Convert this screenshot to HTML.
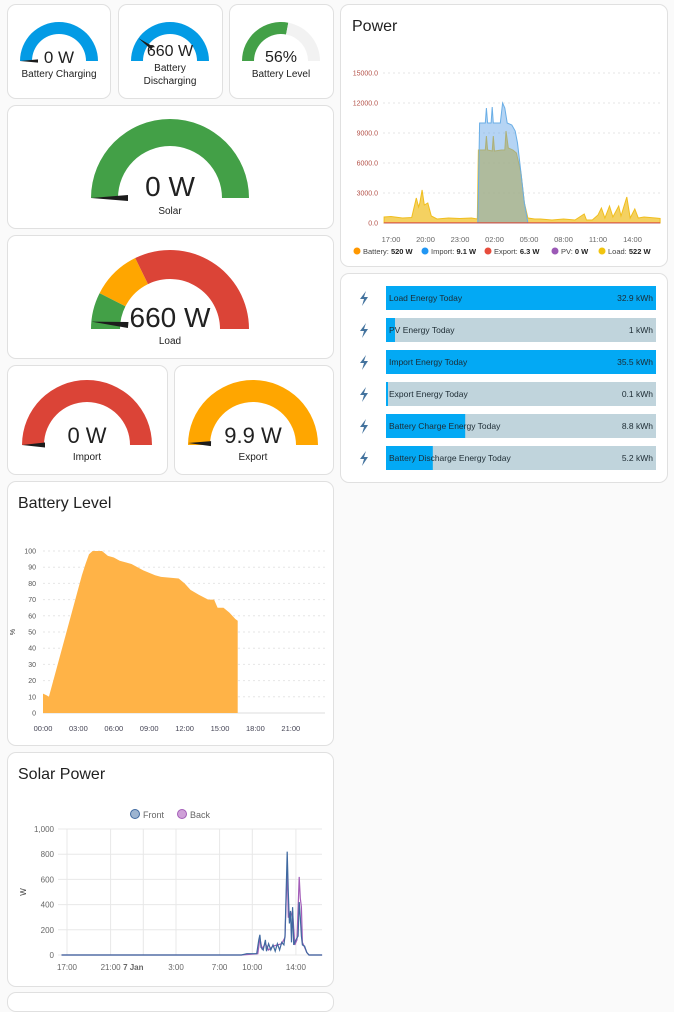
<!DOCTYPE html>
<html><head><meta charset="utf-8"><style>
body{margin:0;background:#fafafa;font-family:"Liberation Sans",sans-serif;width:674px;height:994px;overflow:hidden;position:relative}
.card{position:absolute;background:#fff;border:1px solid #e0e0e0;border-radius:9px;box-sizing:border-box}
svg{position:absolute;left:0;top:0}
.title{position:absolute;font-size:16px;color:#212121}
</style></head><body>
<div class="card" style="left:7px;top:4px;width:104px;height:95px"></div>
<div class="card" style="left:118px;top:4px;width:105px;height:95px"></div>
<div class="card" style="left:229px;top:4px;width:105px;height:95px"></div>
<div class="card" style="left:7px;top:105px;width:327px;height:124px"></div>
<div class="card" style="left:7px;top:235px;width:327px;height:124px"></div>
<div class="card" style="left:7px;top:365px;width:161px;height:110px"></div>
<div class="card" style="left:174px;top:365px;width:160px;height:110px"></div>
<div class="card" style="left:7px;top:481px;width:327px;height:265px"></div>
<div class="card" style="left:7px;top:752px;width:327px;height:235px"></div>
<div class="card" style="left:7px;top:992px;width:327px;height:20px"></div>
<div class="card" style="left:340px;top:4px;width:328px;height:263px"></div>
<div class="card" style="left:340px;top:273px;width:328px;height:210px"></div>
<div class="title" style="left:352px;top:18px">Power</div>
<div class="title" style="left:18px;top:495px">Battery Level</div>
<div class="title" style="left:18px;top:766px">Solar Power</div>
<svg id="s" width="674" height="994" font-family="Liberation Sans, sans-serif"></svg>
<script>
// ---- Power chart data (hours since midnight of day 1; >24 = next day) ----
const loadT=[16.4,17,18,18.8,19.2,19.4,19.5,19.7,19.9,20.2,20.5,21,22,23,24,24.5,24.6,25.2,25.3,25.4,25.8,25.9,26,26.6,26.9,27.0,27.2,27.6,27.9,28.3,28.6,28.9,29.5,30,31,32,33,33.8,34,34.5,35,35.3,35.6,36,36.3,36.8,37,37.5,37.8,38.2,38.5,39,40,40.4];
const loadV=[600,650,500,550,2500,1600,2000,3300,1800,2000,700,400,500,450,500,400,7300,7300,8700,7300,7200,8700,7200,7300,7300,9200,7500,7300,7000,5000,2000,500,400,400,300,400,300,900,300,300,800,1500,500,1700,600,1700,700,2600,500,1400,500,600,500,450];
const impT=[16.4,24.55,24.7,25.2,25.3,25.4,25.7,25.8,25.9,26.5,26.7,26.9,27.1,27.5,27.8,28.0,28.3,28.6,28.9,40.4];
const impV=[0,0,10000,10000,11500,10000,10000,11600,10000,10000,12000,11500,10000,9800,9200,8000,5000,2000,0,0];
const powerYTicks=[0,3000,6000,9000,12000,15000];
const powerXTicks=["17:00","20:00","23:00","02:00","05:00","08:00","11:00","14:00"];
const powerXTickHours=[17,20,23,26,29,32,35,38];
// ---- Battery level data ----
const batT=[0,0.3,0.5,3.3,3.6,3.9,4.2,5.0,5.5,6.0,6.5,7.5,8.5,9.5,10,11.5,12,12.5,13.2,14,14.5,14.8,15.3,15.8,16.3,16.5];
const batV=[12,11,10,85,92,98,100,100,97,96,94,92,88,85,84,83,80,76,73,70,70,65,65,62,58,57];
const batYTicks=[0,10,20,30,40,50,60,70,80,90,100];
const batXTicks=["00:00","03:00","06:00","09:00","12:00","15:00","18:00","21:00"];
// ---- Solar power data ----
const frontT=[16.5,33,33.5,34.4,34.6,34.7,34.8,35,35.2,35.3,35.5,35.7,35.9,36.1,36.3,36.5,36.7,36.9,37.0,37.2,37.3,37.4,37.5,37.6,37.7,37.8,38.0,38.2,38.3,38.4,38.5,38.6,38.8,39.0,39.2,40.4];
const frontV=[0,0,10,10,120,160,60,40,120,30,90,40,80,30,90,40,100,80,150,820,500,250,350,100,380,80,120,150,420,300,150,80,70,20,0,0];
const backT=[16.5,33,34.5,34.7,34.9,35.2,35.5,35.9,36.3,36.7,37.0,37.2,37.3,37.5,37.7,37.9,38.1,38.3,38.4,38.5,38.6,38.8,39.0,39.2,40.4];
const backV=[0,0,10,130,50,90,40,70,80,90,140,700,300,300,350,80,120,620,450,380,100,60,20,0,0];
const solarYTicks=[0,200,400,600,800,1000];
const solarXTicks=["17:00","21:00","7 Jan","3:00","7:00","10:00","14:00"];
const solarXTickHours=[17,21,24,27,31,34,38];
// ---- Energy bars ----
const energyNames=["Load Energy Today","PV Energy Today","Import Energy Today","Export Energy Today","Battery Charge Energy Today","Battery Discharge Energy Today"];
const energyValues=[32.9,1,35.5,0.1,8.8,5.2];
const energyMax=[32.9,30,35.5,30,30,30];

const S=document.getElementById('s');const NS='http://www.w3.org/2000/svg';
function el(t,a,txt){const e=document.createElementNS(NS,t);for(const k in a)e.setAttribute(k,a[k]);if(txt!==undefined)e.textContent=txt;S.appendChild(e);return e;}
function arc(cx,cy,R,r,f0,f1){const a0=Math.PI*(1-f0),a1=Math.PI*(1-f1);const p=(rr,a)=>(cx+rr*Math.cos(a)).toFixed(2)+' '+(cy-rr*Math.sin(a)).toFixed(2);const lg=(f1-f0)>1?1:0;return 'M'+p(R,a0)+' A'+R+' '+R+' 0 '+lg+' 1 '+p(R,a1)+' L'+p(r,a1)+' A'+r+' '+r+' 0 '+lg+' 0 '+p(r,a0)+'Z';}
function needle(cx,cy,R,r,f,w){const a=Math.PI*(1-f);const c=Math.cos(a),s=Math.sin(a);const nx=-s,ny=-c;const ox=cx+R*c,oy=cy-R*s,ix=cx+r*c,iy=cy-r*s;return `M${ox} ${oy} L${ix+nx*w} ${iy+ny*w} L${ix-nx*w} ${iy-ny*w}Z`;}
function gauge(name,cx,cy,R,r,segs,nf,nr,nw,val,vs,vy,labels,ly){
  segs.forEach(sg=>{const p=el('path',{d:arc(cx,cy,R,r,sg[0],sg[1]),fill:sg[2]});
  
  });
  const n=el('path',{d:needle(cx,cy,R,nr,nf,nw),fill:'#1c1c1c'});
  
  
  const v=el('text',{x:cx,y:vy,'text-anchor':'middle','font-size':vs,fill:'#212121'},val);
  
  
  labels.forEach((l,i)=>{const t=el('text',{x:cx,y:ly+i*13,'text-anchor':'middle','font-size':10,fill:'#212121'},l);
  
  });
}
const BLUE='#039be5',GREEN='#43a047',RED='#db4437',ORANGE='#ffa600';
gauge('battery-charging',59,61,39,27,[[0,1,BLUE]],0.0,21,1.6,'0 W',17,63,['Battery Charging'],77);
gauge('battery-discharging',170,61,39,27,[[0,1,BLUE]],0.2,22,1.8,'660 W',16,56,['Battery','Discharging'],71);
gauge('battery-level',281,61,39,27,[[0,0.56,GREEN],[0.56,1,'#f2f2f2']],0.56,39,0,'56%',16,62,['Battery Level'],77);
gauge('solar',170,198,79,52,[[0,1,GREEN]],0.0,42,3,'0 W',28,196,['Solar'],214);
gauge('load',170,329,79,50,[[0,0.15,GREEN],[0.15,0.355,ORANGE],[0.355,1,RED]],0.03,42,3,'660 W',28,327,['Load'],344);
gauge('import',87,445,65,43,[[0,1,RED]],0.0,42,2.5,'0 W',22,443,['Import'],460);
gauge('export',253,445,65,43,[[0,1,ORANGE]],0.01,42,2.5,'9.9 W',22,443,['Export'],460);

function txt(name,x,y,s,fill,anchor,content,extra){const t=el('text',Object.assign({x:x,y:y,'font-size':s,fill:fill,'text-anchor':anchor},extra||{}),content);
  
  return t;}
function area(name,T,V,xf,yf,y0,fill,stroke){let d=`M${xf(T[0])} ${y0}`;T.forEach((t,i)=>d+=` L${xf(t).toFixed(1)} ${yf(V[i]).toFixed(1)}`);d+=` L${xf(T[T.length-1])} ${y0}Z`;
  const p=el('path',{d:d,fill:fill,stroke:stroke||'none','stroke-width':1});
  
  return p;}
function line(name,T,V,xf,yf,stroke,w){const d=T.map((t,i)=>(i?'L':'M')+xf(t).toFixed(1)+' '+yf(V[i]).toFixed(1)).join(' ');
  const p=el('path',{d:d,fill:'none',stroke:stroke,'stroke-width':w});
  
  return p;}

// Power chart
const px=h=>391+(h-17)*11.5, py=v=>223-v*0.01;
powerYTicks.forEach(v=>{const g=el('line',{x1:383,x2:660,y1:py(v),y2:py(v),stroke:'#e6e6e6','stroke-dasharray':'2,3'});
  
  
  txt('power-y-tick',378,py(v)+2.5,7,'#b5534a','end',v.toFixed(1));});
area('power-load-area',loadT,loadV,px,py,223,'rgba(240,190,30,0.7)','#f0be1e');
area('power-import-area',impT,impV,px,py,223,'rgba(90,160,230,0.45)','#6aaee6');
line('power-export-line',[16.4,40.4],[10,10],px,py,'#db4437',1);
powerXTicks.forEach((l,i)=>txt('power-x-tick',px(powerXTickHours[i]),242,7.5,'#666','middle',l));
const leg=[['Battery','520 W','#ff9800',353],['Import','9.1 W','#2196f3',421],['Export','6.3 W','#e74c3c',484],['PV','0 W','#9b59b6',551],['Load','522 W','#f1c40f',598]];
leg.forEach(l=>{const c=el('circle',{cx:l[3]+4,cy:251,r:3.5,fill:l[2]});
  
  
  const t=txt('power-legend-entry',l[3]+10,254,7.5,'#444','start','');
  
  t.innerHTML=l[0]+': <tspan font-weight="bold" fill="#222">'+l[1]+'</tspan>';});

// Energy bars
energyNames.forEach((n,i)=>{const y=286+i*32;
  const ic=el('path',{d:`M366 ${y+5} L360 ${y+13} L364 ${y+13} L362 ${y+20} L368 ${y+11} L364 ${y+11} Z`,fill:'#44739e'});
  
  
  const bg=el('rect',{x:386,y:y,width:270,height:24,fill:'#c0d4dc'});
  
  
  const f=el('rect',{x:386,y:y,width:Math.max(2,270*energyValues[i]/energyMax[i]),height:24,fill:'#03a9f4'});
  
  
  txt('energy-bar-label',389,y+15,8.5,'#1c2b33','start',n);
  txt('energy-bar-value',653,y+15,8.5,'#1c2b33','end',(energyValues[i]%1?energyValues[i].toFixed(1):energyValues[i])+' kWh');});

// Battery level chart
const bx=h=>43+h*11.8, by=v=>713-v*1.62;
batYTicks.forEach(v=>{const g=el('line',{x1:43,x2:325,y1:by(v),y2:by(v),stroke:v?'#e6e6e6':'#ddd','stroke-dasharray':v?'2,3':'0'});
  
  
  txt('battery-y-tick',36,by(v)+2.5,7,'#555','end',v);});
area('battery-level-area',batT,batV,bx,by,713,'#ffb347','none');
batXTicks.forEach((l,i)=>txt('battery-x-tick',bx(i*3),731,7.5,'#445','middle',l));
txt('battery-y-title',15,632,7,'#333','middle','%',{transform:'rotate(-90 15 632)'});

// Solar power chart
const sx=h=>67+(h-17)*10.9, sy=v=>955-v*0.126;
solarYTicks.forEach(v=>{const g=el('line',{x1:58,x2:322,y1:sy(v),y2:sy(v),stroke:'#e8e8e8'});
  
  
  txt('solar-y-tick',54,sy(v)+3,8,'#666','end',v.toLocaleString('en-US'));});
solarXTickHours.forEach((h,i)=>{const g=el('line',{x1:sx(h),x2:sx(h),y1:829,y2:955,stroke:'#e8e8e8'});
  
  
  txt('solar-x-tick',sx(h)-(h===24?10:0),970,8,'#666','middle',solarXTicks[i],h===24?{'font-weight':'bold'}:{});});
line('solar-back-line',backT,backV,sx,sy,'#a35db8',1.2);
line('solar-front-line',frontT,frontV,sx,sy,'#3f69a0',1.2);
[['Front',135,'#9db4d0','#3f69a0'],['Back',182,'#cfa0d8','#a35db8']].forEach(l=>{const c=el('circle',{cx:l[1],cy:814,r:4.5,fill:l[2],stroke:l[3]});
  
  
  const t=txt('solar-legend-entry',l[1]+8,818,9,'#666','start',l[0]);
  });
txt('solar-y-title',26,892,8,'#444','middle','W',{transform:'rotate(-90 26 892)'});
</script>
</body></html>
